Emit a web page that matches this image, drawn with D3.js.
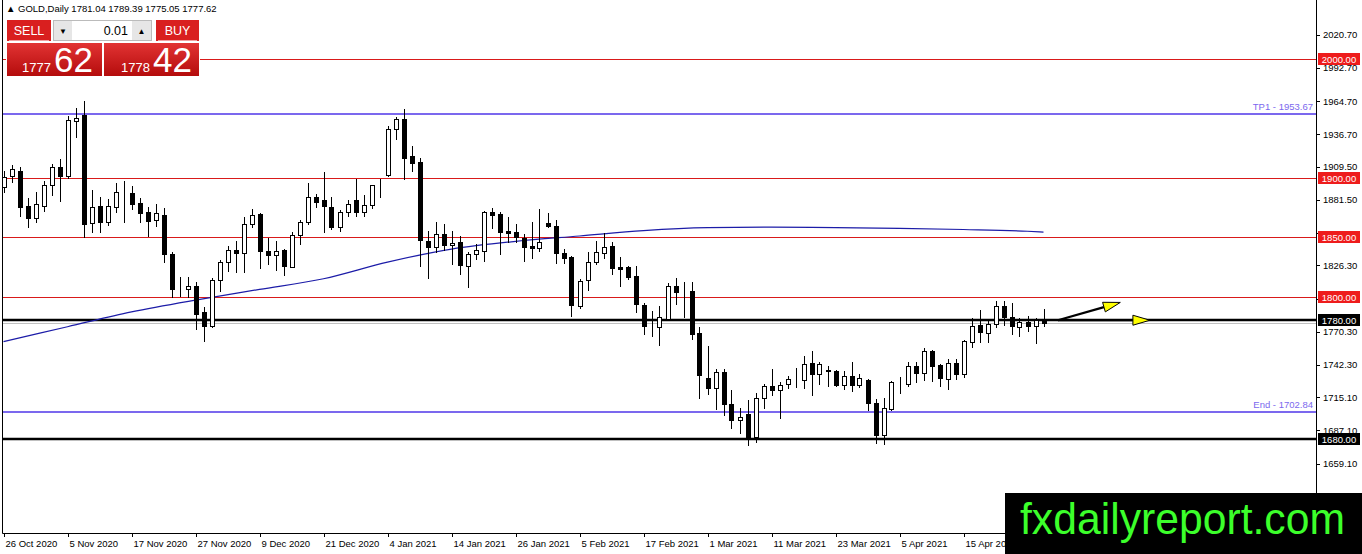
<!DOCTYPE html>
<meta charset="utf-8">
<script src="https://d3js.org/d3.v7.min.js"></script>
<style>
  body { margin: 0; background: #fff; overflow: hidden; }
  svg { display: block; font-family: "Liberation Sans", Arial, sans-serif; }
</style>
<div id="my_dataviz"></div>
<script>

  // date labels, one every 8 bars
  var tickIdx = [0, 8, 16, 24, 32, 40, 48, 56, 64, 72, 80, 88, 96, 104, 112, 120];
  var tickLabels = ["26 Oct 2020", "5 Nov 2020", "17 Nov 2020", "27 Nov 2020", "9 Dec 2020", "21 Dec 2020",
    "4 Jan 2021", "14 Jan 2021", "26 Jan 2021", "5 Feb 2021", "17 Feb 2021", "1 Mar 2021",
    "11 Mar 2021", "23 Mar 2021", "5 Apr 2021", "15 Apr 2021"];

  // daily OHLC
  var opens = [1892.2, 1901.5, 1905.4, 1876.7, 1866.3, 1875.9, 1894.2, 1909.1, 1901.2, 1947.9,
    1952.7, 1861.8, 1875.9, 1863.2, 1875.3, 1887.9, 1887.4, 1878.9, 1871.6, 1864.9,
    1869.1, 1835.9, 1806.8, 1806.3, 1808.9, 1786.6, 1774.8, 1813.9, 1828.8, 1839.5,
    1836.7, 1861.2, 1869.7, 1838.7, 1835.3, 1839.5, 1825.2, 1852.2, 1862.6, 1883.7,
    1881.5, 1875.3, 1858.4, 1871.6, 1881.5, 1871.6, 1877.3, 1892.8, 1902.6, 1941.5,
    1949.3, 1918.1, 1913.3, 1847.2, 1841.5, 1852.8, 1843.5, 1845.7, 1825.5, 1835.9,
    1838.7, 1871.1, 1869.7, 1855.0, 1854.7, 1849.3, 1842.3, 1840.6, 1862.0, 1859.8,
    1836.7, 1833.0, 1792.2, 1813.9, 1828.8, 1836.7, 1842.3, 1824.6, 1824.6, 1817.5,
    1793.0, 1774.8, 1774.5, 1780.9, 1808.5, 1803.6, 1804.3, 1769.2, 1731.2, 1722.7,
    1736.5, 1709.2, 1695.7, 1701.3, 1681.6, 1714.3, 1724.7, 1721.0, 1726.1, 1729.6,
    1729.5, 1743.8, 1734.5, 1737.9, 1737.3, 1725.5, 1732.6, 1725.3, 1729.7, 1710.0,
    1683.3, 1705.0, 1726.9, 1726.1, 1741.6, 1735.9, 1754.2, 1742.4, 1730.3, 1743.8,
    1734.5, 1761.3, 1776.2, 1768.9, 1776.7, 1792.2, 1782.9, 1774.5, 1778.2, 1775.3,
    1781.04];
  var highs = [1906.0, 1910.5, 1909.6, 1882.9, 1888.0, 1897.0, 1911.9, 1916.1, 1952.1, 1958.9,
    1964.5, 1889.4, 1883.7, 1882.3, 1895.8, 1897.8, 1893.0, 1883.2, 1875.3, 1878.1,
    1874.5, 1837.9, 1816.7, 1816.2, 1812.0, 1790.8, 1815.6, 1831.1, 1842.9, 1847.1,
    1867.4, 1873.9, 1870.2, 1849.1, 1846.6, 1840.1, 1854.2, 1864.6, 1895.6, 1886.5,
    1904.8, 1883.7, 1873.0, 1881.5, 1899.2, 1885.2, 1894.2, 1899.2, 1943.7, 1951.3,
    1958.3, 1926.8, 1916.7, 1855.6, 1862.6, 1861.2, 1855.6, 1851.4, 1837.3, 1844.3,
    1872.5, 1874.5, 1871.1, 1866.8, 1861.2, 1852.7, 1862.6, 1873.8, 1870.5, 1864.8,
    1840.1, 1833.9, 1814.7, 1837.8, 1847.1, 1853.6, 1846.3, 1833.0, 1826.0, 1825.4,
    1794.2, 1788.0, 1792.2, 1811.3, 1815.3, 1811.9, 1811.9, 1774.0, 1758.5, 1738.8,
    1738.8, 1721.0, 1706.4, 1712.6, 1719.0, 1726.6, 1738.8, 1727.5, 1733.1, 1739.6,
    1750.0, 1754.2, 1744.4, 1741.6, 1737.8, 1736.8, 1744.4, 1734.5, 1730.3, 1713.4,
    1714.3, 1728.9, 1732.3, 1744.4, 1744.4, 1757.0, 1754.8, 1743.5, 1747.2, 1747.2,
    1763.2, 1781.8, 1788.6, 1779.6, 1796.5, 1796.5, 1794.2, 1781.8, 1783.8, 1781.8,
    1789.39];
  var lows = [1888.0, 1896.4, 1867.7, 1858.4, 1862.6, 1871.9, 1885.2, 1880.9, 1899.8, 1934.4,
    1850.0, 1854.2, 1854.8, 1860.7, 1871.6, 1863.2, 1873.9, 1862.6, 1850.8, 1859.3,
    1828.9, 1799.3, 1800.7, 1799.3, 1772.5, 1762.1, 1774.0, 1804.9, 1821.8, 1820.4,
    1820.4, 1858.4, 1824.1, 1827.4, 1822.4, 1818.2, 1824.6, 1844.3, 1861.2, 1875.3,
    1854.2, 1857.0, 1855.6, 1868.3, 1867.7, 1867.7, 1874.5, 1883.7, 1901.5, 1933.0,
    1899.2, 1905.4, 1826.0, 1815.3, 1837.3, 1839.5, 1827.4, 1819.0, 1807.7, 1831.7,
    1830.3, 1857.6, 1835.9, 1845.7, 1845.7, 1830.2, 1832.2, 1838.7, 1858.4, 1828.0,
    1828.0, 1783.2, 1790.0, 1805.7, 1827.4, 1832.2, 1819.0, 1808.5, 1814.7, 1787.1,
    1768.3, 1766.9, 1759.0, 1780.4, 1793.6, 1782.4, 1764.1, 1714.8, 1717.6, 1705.0,
    1700.2, 1688.9, 1685.3, 1674.9, 1677.7, 1706.4, 1717.1, 1697.4, 1722.7, 1723.8,
    1722.7, 1717.1, 1726.6, 1724.7, 1724.7, 1721.9, 1720.5, 1723.3, 1704.1, 1676.8,
    1676.0, 1704.1, 1719.0, 1724.7, 1728.3, 1729.5, 1728.9, 1724.7, 1721.9, 1730.3,
    1732.3, 1757.6, 1761.3, 1761.3, 1774.5, 1776.2, 1768.3, 1766.9, 1771.1, 1760.4,
    1775.05];
  var closes = [1900.6, 1907.1, 1875.3, 1866.0, 1878.1, 1894.4, 1909.1, 1901.5, 1948.5, 1950.5,
    1861.2, 1875.3, 1863.2, 1875.9, 1888.5, 1888.4, 1878.1, 1870.5, 1864.0, 1870.2,
    1835.9, 1806.3, 1807.0, 1808.6, 1785.2, 1774.8, 1813.9, 1829.4, 1839.3, 1836.4,
    1861.2, 1868.8, 1838.1, 1835.0, 1838.7, 1825.5, 1852.2, 1863.2, 1883.7, 1879.5,
    1875.9, 1858.4, 1871.1, 1878.1, 1871.6, 1877.5, 1893.6, 1893.3, 1941.5, 1949.3,
    1916.7, 1912.5, 1848.0, 1841.5, 1852.8, 1843.5, 1845.2, 1826.6, 1835.9, 1839.3,
    1871.6, 1868.8, 1854.2, 1853.3, 1849.9, 1841.5, 1840.6, 1845.7, 1859.2, 1836.7,
    1832.2, 1792.8, 1813.3, 1829.4, 1837.2, 1841.5, 1823.7, 1823.2, 1816.1, 1793.6,
    1774.8, 1775.0, 1782.4, 1808.5, 1803.5, 1803.4, 1768.3, 1733.7, 1722.7, 1736.5,
    1709.2, 1695.7, 1698.5, 1681.6, 1714.3, 1724.7, 1721.0, 1725.2, 1730.3, 1729.9,
    1743.5, 1734.5, 1743.0, 1736.8, 1725.2, 1732.6, 1725.5, 1731.0, 1710.6, 1683.3,
    1705.8, 1728.0, 1727.2, 1741.6, 1735.9, 1754.2, 1741.6, 1730.9, 1743.8, 1734.5,
    1762.1, 1775.3, 1769.7, 1776.7, 1792.2, 1782.4, 1775.3, 1778.2, 1774.8, 1780.1,
    1777.62];

  // moving average, read at a few bars
  var maIdx = [0, 8, 16, 24, 32, 40, 48, 56, 64, 72, 80, 88, 96, 104, 112, 120, 128, 130];
  var maValues = [1762, 1774.5, 1787, 1797, 1806, 1815, 1829, 1840, 1846.5, 1851, 1855.5, 1858,
    1858.5, 1858, 1857.5, 1856.5, 1855, 1854.3];

  var redLevels = [2000, 1900, 1850, 1800];
  var blackLevels = [1780, 1680];
  var blueLevels = [1953.67, 1702.84];
  var blueNames = ["TP1", "End"];
  var priceTicks = [2020.70, 1992.70, 1964.70, 1936.70, 1909.50, 1881.50, 1853.50, 1826.30,
    1798.30, 1770.30, 1742.30, 1715.10, 1687.10, 1659.10];
  var bidPrice = 1777.62;

  // the two yellow arrows (bar index, price)
  var arrowFrom = [131.8, 1780];
  var arrowTo = [[139.6, 1795], [143.3, 1780]];

  var width = 1362, height = 554;
  var plotRight = 1316, plotBottom = 533, plotLeft = 3;

  var svg = d3.select("#my_dataviz")
    .append("svg")
    .attr("width", width)
    .attr("height", height);

  var x = d3.scaleLinear().domain([0, 130]).range([3.5, 1043.5]);
  var y = d3.scaleLinear().domain([1600.6, 2050]).range([plotBottom, 0]);

  var px = function (i) { return Math.round(x(i)) + 0.5; };
  var py = function (p) { return Math.round(y(p)) + 0.5; };

  var chart = svg.append("g");
  chart.append("clipPath").attr("id", "clip")
    .append("rect").attr("x", plotLeft).attr("y", 0)
    .attr("width", plotRight - plotLeft).attr("height", plotBottom);
  var plot = chart.append("g").attr("clip-path", "url(#clip)");

  // bid line
  plot.append("line")
    .attr("x1", plotLeft).attr("x2", plotRight)
    .attr("y1", py(bidPrice)).attr("y2", py(bidPrice))
    .attr("stroke", "#c0c0c0").attr("stroke-width", 1);

  plot.selectAll(".red").data(redLevels).enter().append("line")
    .attr("x1", plotLeft).attr("x2", plotRight)
    .attr("y1", function (d) { return py(d); }).attr("y2", function (d) { return py(d); })
    .attr("stroke", "#d91a1a").attr("stroke-width", 1);

  plot.selectAll(".blue").data(blueLevels).enter().append("line")
    .attr("x1", plotLeft).attr("x2", plotRight)
    .attr("y1", function (d) { return Math.round(y(d)); }).attr("y2", function (d) { return Math.round(y(d)); })
    .attr("stroke", "#7b68ee").attr("stroke-width", 2);

  plot.selectAll(".blk").data(blackLevels).enter().append("line")
    .attr("x1", plotLeft).attr("x2", plotRight)
    .attr("y1", function (d) { return Math.round(y(d)); }).attr("y2", function (d) { return Math.round(y(d)); })
    .attr("stroke", "#000").attr("stroke-width", 2.5);

  plot.selectAll(".bluelbl").data(blueLevels).enter().append("text")
    .attr("x", plotRight - 3)
    .attr("y", function (d) { return y(d) - 4; })
    .attr("text-anchor", "end")
    .attr("font-size", 9.5)
    .attr("fill", "#7b68ee")
    .text(function (d, i) { return blueNames[i] + " - " + d.toFixed(2); });

  // moving average
  plot.append("path")
    .datum(maIdx.map(function (d, i) { return [d, maValues[i]]; }))
    .attr("fill", "none")
    .attr("stroke", "#1c1ca8")
    .attr("stroke-width", 1.2)
    .attr("d", d3.line()
      .x(function (d) { return x(d[0]); })
      .y(function (d) { return y(d[1]); })
      .curve(d3.curveMonotoneX));

  // candles
  var bars = d3.range(opens.length);
  var candle = plot.selectAll(".candle").data(bars).enter().append("g")
    .attr("shape-rendering", "crispEdges");

  candle.append("line")
    .attr("x1", function (i) { return px(i); }).attr("x2", function (i) { return px(i); })
    .attr("y1", function (i) { return Math.round(y(highs[i])); })
    .attr("y2", function (i) { return Math.round(y(lows[i])) + 1; })
    .attr("stroke", "#000").attr("stroke-width", 1);

  candle.append("rect")
    .attr("x", function (i) { return px(i) - 2; })
    .attr("width", 4)
    .attr("y", function (i) { return py(Math.max(opens[i], closes[i])); })
    .attr("height", function (i) {
      return Math.max(0, py(Math.min(opens[i], closes[i])) - py(Math.max(opens[i], closes[i])));
    })
    .attr("fill", function (i) { return closes[i] >= opens[i] ? "#fff" : "#000"; })
    .attr("stroke", "#000").attr("stroke-width", 1);

  // arrows
  arrowTo.forEach(function (t) {
    var x0 = x(arrowFrom[0]), y0 = y(arrowFrom[1]), x1 = x(t[0]), y1 = y(t[1]);
    var a = Math.atan2(y1 - y0, x1 - x0);
    var len = 17, hw = 5;
    var bx = x1 - len * Math.cos(a), by = y1 - len * Math.sin(a);
    plot.append("line")
      .attr("x1", x0).attr("y1", y0).attr("x2", bx).attr("y2", by)
      .attr("stroke", "#000").attr("stroke-width", 2.2);
    var pts = [[x1, y1],
      [bx + hw * Math.sin(a), by - hw * Math.cos(a)],
      [bx - hw * Math.sin(a), by + hw * Math.cos(a)]];
    plot.append("path")
      .attr("d", "M" + pts.map(function (p) { return p.join(","); }).join("L") + "Z")
      .attr("fill", "#ffff00").attr("stroke", "#000").attr("stroke-width", 1);
  });

  // frame
  chart.append("path")
    .attr("d", "M" + (plotLeft - 0.5) + ",0V" + (plotBottom + 0.5) + "H" + (plotRight + 0.5) + "V0")
    .attr("fill", "none").attr("stroke", "#000").attr("stroke-width", 1);

  // price axis
  var yAxis = chart.append("g").attr("font-size", 9.5);
  yAxis.selectAll("line").data(priceTicks).enter().append("line")
    .attr("x1", plotRight).attr("x2", plotRight + 4)
    .attr("y1", function (d) { return py(d); }).attr("y2", function (d) { return py(d); })
    .attr("stroke", "#000");
  yAxis.selectAll("text").data(priceTicks).enter().append("text")
    .attr("x", plotRight + 7)
    .attr("y", function (d) { return y(d) + 3.5; })
    .attr("fill", "#000")
    .text(function (d) { return d.toFixed(2); });

  // level boxes on the axis
  var boxes = redLevels.map(function (d) { return { p: d, c: "#ee1c1c" }; })
    .concat(blackLevels.map(function (d) { return { p: d, c: "#000" }; }));
  var box = chart.selectAll(".box").data(boxes).enter().append("g");
  box.append("rect")
    .attr("x", plotRight + 2).attr("width", 42)
    .attr("y", function (d) { return Math.round(y(d.p)) - 6; })
    .attr("height", 12)
    .attr("fill", function (d) { return d.c; });
  box.append("text")
    .attr("x", plotRight + 23)
    .attr("y", function (d) { return Math.round(y(d.p)) + 3.5; })
    .attr("text-anchor", "middle")
    .attr("font-size", 9.5)
    .attr("fill", "#fff")
    .text(function (d) { return d.p.toFixed(2); });

  // date axis
  var xAxis = chart.append("g").attr("font-size", 9.5);
  xAxis.selectAll("line").data(tickIdx).enter().append("line")
    .attr("x1", function (d) { return px(d); }).attr("x2", function (d) { return px(d); })
    .attr("y1", plotBottom).attr("y2", plotBottom + 4)
    .attr("stroke", "#000");
  xAxis.selectAll("text").data(tickIdx).enter().append("text")
    .attr("x", function (d) { return px(d) + 1; })
    .attr("y", plotBottom + 14)
    .attr("fill", "#000")
    .text(function (d, i) { return tickLabels[i]; });

  // header line
  svg.append("text")
    .attr("x", 6).attr("y", 12)
    .attr("font-size", 9.5)
    .attr("fill", "#000")
    .text("\u25B2 GOLD,Daily  " + [opens[130], highs[130], lows[130], closes[130]]
      .map(function (d) { return d.toFixed(2); }).join(" "));

  // one-click trading panel
  var defs = svg.append("defs");
  var grad = defs.append("linearGradient").attr("id", "redgrad")
    .attr("x1", 0).attr("y1", 0).attr("x2", 0).attr("y2", 1);
  grad.append("stop").attr("offset", "0%").attr("stop-color", "#e23333");
  grad.append("stop").attr("offset", "100%").attr("stop-color", "#b40c0c");

  var panel = svg.append("g");
  panel.append("rect").attr("x", 6).attr("y", 19).attr("width", 194).attr("height", 58).attr("fill", "#fff");
  panel.append("rect").attr("x", 7).attr("y", 20).attr("width", 44).attr("height", 21).attr("fill", "#d91f1f");
  panel.append("line").attr("x1", 9).attr("x2", 49).attr("y1", 40.5).attr("y2", 40.5).attr("stroke", "#f2a0a0");
  panel.append("text").attr("x", 29).attr("y", 35).attr("text-anchor", "middle")
    .attr("font-size", 12.5).attr("fill", "#fff").text("SELL");
  panel.append("rect").attr("x", 156).attr("y", 20).attr("width", 43).attr("height", 21).attr("fill", "#d91f1f");
  panel.append("line").attr("x1", 158).attr("x2", 197).attr("y1", 40.5).attr("y2", 40.5).attr("stroke", "#f2a0a0");
  panel.append("text").attr("x", 177.5).attr("y", 35).attr("text-anchor", "middle")
    .attr("font-size", 12.5).attr("fill", "#fff").text("BUY");
  panel.append("rect").attr("x", 53.5).attr("y", 20.5).attr("width", 98).attr("height", 20)
    .attr("fill", "#fff").attr("stroke", "#bbb");
  panel.append("rect").attr("x", 54).attr("y", 21).attr("width", 18).attr("height", 19).attr("fill", "#e6e6e6");
  panel.append("rect").attr("x", 132).attr("y", 21).attr("width", 19).attr("height", 19).attr("fill", "#e6e6e6");
  panel.append("text").attr("x", 63).attr("y", 33.5).attr("text-anchor", "middle")
    .attr("font-size", 8).attr("fill", "#000").text("\u25BC");
  panel.append("text").attr("x", 141.5).attr("y", 33.5).attr("text-anchor", "middle")
    .attr("font-size", 8).attr("fill", "#000").text("\u25B2");
  panel.append("text").attr("x", 128).attr("y", 35).attr("text-anchor", "end")
    .attr("font-size", 12.5).attr("fill", "#000").text("0.01");

  var quotes = [["1777", "62"], ["1778", "42"]];
  quotes.forEach(function (q, k) {
    var bx = k === 0 ? 7 : 104;
    panel.append("rect").attr("x", bx).attr("y", 43).attr("width", 95).attr("height", 33)
      .attr("fill", "url(#redgrad)");
    var t = panel.append("text").attr("x", bx + (k === 0 ? 15 : 17)).attr("y", 72).attr("fill", "#fff");
    t.append("tspan").attr("font-size", 13).text(q[0]);
    t.append("tspan").attr("font-size", 35).attr("dx", 3).text(q[1]);
  });

  // watermark
  svg.append("rect").attr("x", 1005).attr("y", 493).attr("width", 357).attr("height", 61).attr("fill", "#000");
  svg.append("text")
    .attr("x", 1020).attr("y", 534)
    .attr("font-size", 44)
    .attr("fill", "#3cff2b")
    .attr("textLength", 325)
    .attr("lengthAdjust", "spacingAndGlyphs")
    .text("fxdailyreport.com");

</script>
